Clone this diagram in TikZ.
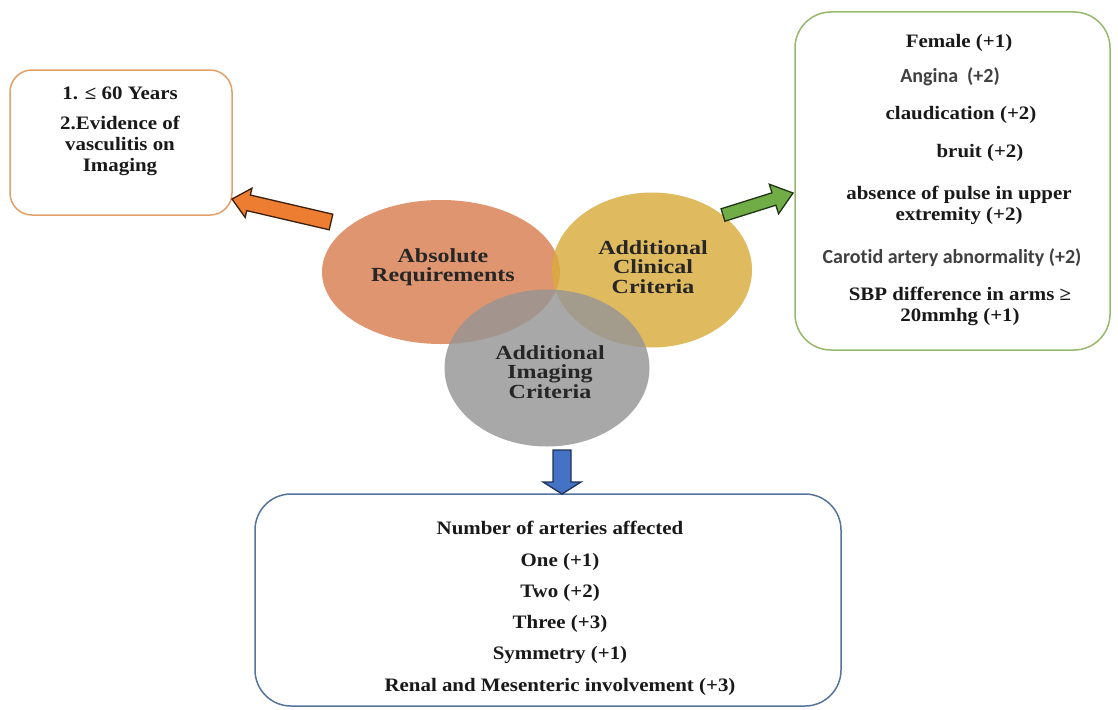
\documentclass[tikz,border=0pt]{standalone}
\usepackage{fontspec}
\setmainfont{Liberation Serif}[FakeStretch=1.1]
\newfontfamily\calibfont{Carlito}[Ligatures=NoCommon]
\newfontfamily\ellfont{Liberation Serif}[FakeStretch=1.2]
\usetikzlibrary{shapes.geometric,calc}
\definecolor{orangeline}{RGB}{226,160,105}
\definecolor{greenline}{RGB}{150,185,110}
\definecolor{blueline}{RGB}{85,115,155}
\definecolor{ellorange}{RGB}{216,126,80}
\definecolor{ellyellow}{RGB}{216,172,60}
\definecolor{ellgray}{RGB}{150,150,150}
\definecolor{arrorange}{RGB}{237,125,49}
\definecolor{arrgreen}{RGB}{112,173,71}
\definecolor{arrblue}{RGB}{68,114,196}
\definecolor{textdark}{RGB}{25,25,25}
\definecolor{cgray}{RGB}{64,64,64}
\newcommand\blockarrow[6]{%
  \coordinate (ba-n) at ($(#2)!#5!(#1)$);
  \draw[#6] ($(#1)!#3!90:(#2)$) -- ($(ba-n)!#3!90:(#2)$) -- ($(ba-n)!#4!90:(#2)$)
    -- (#2) -- ($(ba-n)!#4!-90:(#2)$) -- ($(ba-n)!#3!-90:(#2)$)
    -- ($(#1)!#3!-90:(#2)$) -- cycle;}
\begin{document}
\begin{tikzpicture}[x=1pt,y=-1pt,
  txt/.style={font=\bfseries\fontsize{19}{21}\selectfont, text=textdark, inner sep=0pt, align=center},
  ctxt/.style={font=\calibfont\bfseries\fontsize{20}{22}\selectfont, text=cgray, inner sep=0pt},
  etxt/.style={font=\ellfont\bfseries\fontsize{20}{19.5}\selectfont, text=black!85, inner sep=0pt, align=center},
  rbox/.style={draw, line width=1.5pt, inner sep=0pt, fill=white},
  ell/.style={ellipse, inner sep=0pt, fill opacity=0.82},
  barrow/.style={line width=1.3pt, line join=miter}]
\useasboundingbox (0,0) rectangle (1118,709);
\fill[white] (0,0) rectangle (1118,709);

% boxes
\node[rbox, draw=orangeline, rounded corners=22pt, minimum width=222pt, minimum height=145pt] (leftbox) at (121,142.5) {};
\node[rbox, draw=greenline, rounded corners=36pt, minimum width=315pt, minimum height=338pt] (rightbox) at (952.5,181) {};
\node[rbox, draw=blueline, rounded corners=36pt, minimum width=586pt, minimum height=212pt] (bottombox) at (548,600) {};

% ellipses
\node[ell, fill=ellorange, minimum width=238pt, minimum height=144pt] (absreq) at (441,272) {};
\node[ell, fill=ellyellow, minimum width=200pt, minimum height=155pt] (clinical) at (652,270) {};
\node[ell, fill=ellgray, minimum width=205pt, minimum height=157pt] (imaging) at (547,368) {};

\node[etxt] (absreqtext) at (443,267) {Absolute\\Requirements};
\node[etxt] (clinicaltext) at (653,267) {Additional\\Clinical\\Criteria};
\node[etxt] (imagingtext) at (550,372) {Additional\\Imaging\\Criteria};

% block arrows
\coordinate (oatail) at (331,222);
\coordinate (oatip) at (232,199);
\coordinate (gatail) at (723,215);
\coordinate (gatip) at (793,193);
\coordinate (batail) at (562,450);
\coordinate (batip) at (562,494);
\blockarrow{oatail}{oatip}{8pt}{15pt}{17pt}{barrow, fill=arrorange, draw=black!75!arrorange}
\blockarrow{gatail}{gatip}{6.5pt}{15.5pt}{20pt}{barrow, fill=arrgreen, draw=black!70!arrgreen}
\blockarrow{batail}{batip}{9pt}{19pt}{12pt}{barrow, fill=arrblue, draw=black!55!arrblue}

% left box text
\node[txt] (l1) at (120,93) {1. ≤ 60 Years};
\node[txt] (l2) at (120,146) {2.Evidence of\\vasculitis on\\Imaging};

% right box text
\node[txt] (r1) at (959,43) {Female (+1)};
\node[ctxt] (r2) at (950,77) {Angina\ \ (+2)};
\node[txt] (r3) at (961,115) {claudication (+2)};
\node[txt] (r4) at (980,153) {bruit (+2)};
\node[txt] (r5) at (959,205) {absence of pulse in upper\\extremity (+2)};
\node[ctxt] (r6) at (952,258) {Carotid artery abnormality (+2)};
\node[txt] (r7) at (960,306) {SBP difference in arms ≥\\20mmhg (+1)};

% bottom box text
\node[txt] (b1) at (560,528) {Number of arteries affected};
\node[txt] (b2) at (560,562) {One (+1)};
\node[txt] (b3) at (560,593) {Two (+2)};
\node[txt] (b4) at (560,624) {Three (+3)};
\node[txt] (b5) at (560,655) {Symmetry (+1)};
\node[txt] (b6) at (560,687) {Renal and Mesenteric involvement (+3)};
\end{tikzpicture}
\end{document}
